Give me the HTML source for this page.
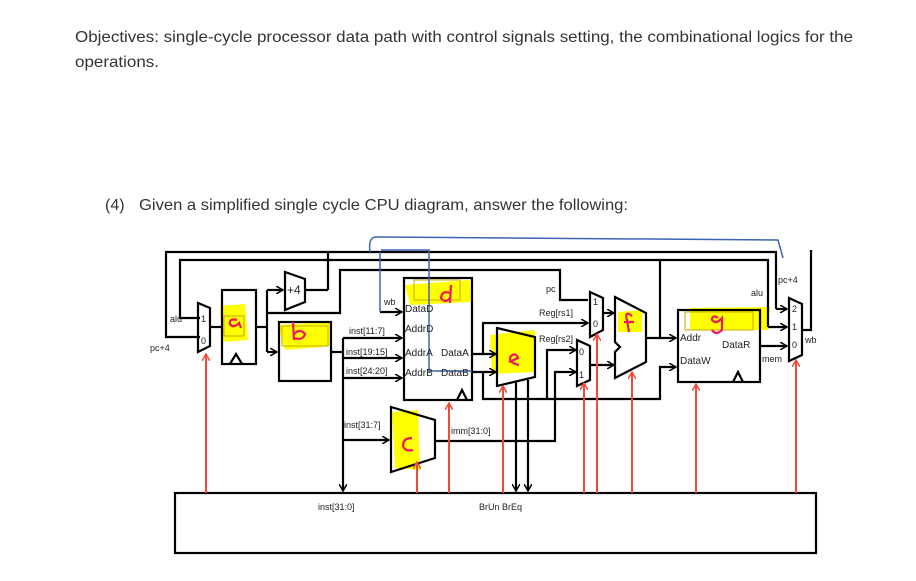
<!DOCTYPE html>
<html><head><meta charset="utf-8"><style>
html,body{margin:0;padding:0;background:#fff;width:916px;height:581px;overflow:hidden}
svg{display:block}
</style></head><body>
<svg width="916" height="581" viewBox="0 0 916 581" xmlns="http://www.w3.org/2000/svg" font-family="Liberation Sans, sans-serif">
<defs>
<marker id="a" markerWidth="8" markerHeight="8" refX="7" refY="4" orient="auto" markerUnits="userSpaceOnUse"><path d="M0,0 L7,4 L0,8" fill="none" stroke="#000" stroke-width="1.5"/></marker>
<marker id="r" markerWidth="8" markerHeight="8" refX="7" refY="4" orient="auto" markerUnits="userSpaceOnUse"><path d="M0,0 L7,4 L0,8" fill="none" stroke="#f04a3a" stroke-width="1.5"/></marker>
</defs>
<g fill="#333" font-size="16">
<text x="75" y="42" textLength="778" lengthAdjust="spacingAndGlyphs">Objectives: single-cycle processor data path with control signals setting,  the combinational logics for the</text>
<text x="75" y="67" textLength="84" lengthAdjust="spacingAndGlyphs">operations.</text>
<text x="105" y="210">(4)</text>
<text x="139" y="210" textLength="489" lengthAdjust="spacingAndGlyphs">Given a simplified single cycle CPU diagram, answer the following:</text>
</g>
<!-- highlights -->
<g fill="#ffff00">
<path d="M220,306 L245,304 L248,340 L222,342 Z"/>
<path d="M278,325 L330,322 L332,346 L285,350 Z"/>
<path d="M405,285 L470,280 L472,302 L410,305 Z"/>
<path d="M490,335 L535,330 L535,372 L492,374 Z"/>
<path d="M392,412 L418,410 L420,470 L395,468 Z"/>
<path d="M618,312 L642,310 L642,332 L618,332 Z"/>
<path d="M690,308 L770,307 L768,330 L690,330 Z"/>
</g>
<g fill="none" stroke="#000" stroke-width="2.2">
<polyline points="200,337 166,337 166,252 776,252 776,309" />
<polyline points="200,318 180,318 180,260 768,260 768,327"/>
<line x1="660" y1="260" x2="660" y2="338"/>
<polyline points="328,290 328,252"/>
<polyline points="267,313 340,313 340,270 560,270 560,300 588,300"/>
<polygon points="198,303 210,308 210,346 198,352"/>
<line x1="210" y1="327" x2="222" y2="327"/>
<rect x="222" y="290" width="34" height="74"/>
<polyline points="230,364 236,354 242,364"/>
<polyline points="256,327 267,327"/>
<polyline points="267,290 267,352"/>
<line x1="267" y1="290" x2="283" y2="290" marker-end="url(#a)"/>
<line x1="267" y1="352" x2="277" y2="352" marker-end="url(#a)"/>
<polygon points="285,272 305,279 305,302 285,310"/>
<line x1="305" y1="290" x2="328" y2="290"/>
<rect x="279" y="322" width="52" height="59"/>
<line x1="331" y1="352" x2="343" y2="352"/>
<line x1="343" y1="338" x2="343" y2="491" marker-end="url(#a)"/>
<line x1="343" y1="338" x2="402" y2="338" marker-end="url(#a)"/>
<line x1="343" y1="358" x2="402" y2="358" marker-end="url(#a)"/>
<line x1="343" y1="378" x2="402" y2="378" marker-end="url(#a)"/>
<line x1="343" y1="440" x2="389" y2="440" marker-end="url(#a)"/>
<rect x="404" y="278" width="68" height="122"/>
<polyline points="457,400 462,390 467,400"/>
<line x1="380" y1="312" x2="402" y2="312" marker-end="url(#a)"/>
<polygon points="391,407 435,420 435,458 391,472"/>
<polyline points="435,441 555,441 555,372 576,372" marker-end="url(#a)"/>
<line x1="472" y1="354" x2="496" y2="354" marker-end="url(#a)"/>
<line x1="472" y1="372" x2="496" y2="372" marker-end="url(#a)"/>
<polyline points="483,354 483,323 588,323" marker-end="url(#a)"/>
<polyline points="483,372 483,399 660,399 660,367 676,367" marker-end="url(#a)"/>
<polyline points="547,399 547,350 576,350" marker-end="url(#a)"/>
<polygon points="497,328 535,337 535,377 497,386"/>
<line x1="516" y1="382" x2="516" y2="491" marker-end="url(#a)"/>
<line x1="528" y1="380" x2="528" y2="491" marker-end="url(#a)"/>
<polygon points="590,292 603,298 603,330 590,337"/>
<polygon points="577,340 590,346 590,380 577,386"/>
<line x1="603" y1="313" x2="614" y2="313" marker-end="url(#a)"/>
<line x1="590" y1="365" x2="614" y2="365" marker-end="url(#a)"/>
<polygon points="615,297 646,313 646,362 615,378 615,352 620,347 615,342 615,333"/>
<line x1="646" y1="338" x2="676" y2="338" marker-end="url(#a)"/>
<rect x="678" y="310" width="82" height="72"/>
<polyline points="733,382 738,372 743,382"/>
<line x1="760" y1="346" x2="787" y2="346" marker-end="url(#a)"/>
<line x1="768" y1="327" x2="787" y2="327" marker-end="url(#a)"/>
<line x1="776" y1="309" x2="787" y2="309" marker-end="url(#a)"/>
<polygon points="789,298 802,304 802,355 789,361"/>
<polyline points="802,330 811,330 811,250"/>
<rect x="175" y="493" width="641" height="60"/>
</g>
<g fill="none" stroke="#c8a800" stroke-width="1"><rect x="224" y="316" width="20" height="20"/><rect x="282" y="326" width="46" height="20"/><rect x="414" y="280" width="46" height="20"/><rect x="685" y="312" width="68" height="18"/></g>
<g fill="none" stroke="#3c64b4" stroke-width="1.5">
<path d="M370,252 Q368,237 376,237 L778,240 L783,258"/>
<polyline points="380,252 380,312"/>
<polyline points="381,250 429,250 429,371 472,371"/>
</g>
<g stroke="#f04a3a" stroke-width="2" fill="none">
<line x1="206" y1="493" x2="206" y2="354" marker-end="url(#r)"/>
<line x1="417" y1="493" x2="417" y2="462" marker-end="url(#r)"/>
<line x1="449" y1="493" x2="449" y2="403" marker-end="url(#r)"/>
<line x1="503" y1="493" x2="503" y2="386" marker-end="url(#r)"/>
<line x1="584" y1="493" x2="584" y2="383" marker-end="url(#r)"/>
<line x1="597" y1="493" x2="597" y2="334" marker-end="url(#r)"/>
<line x1="632" y1="493" x2="632" y2="372" marker-end="url(#r)"/>
<line x1="696" y1="493" x2="696" y2="384" marker-end="url(#r)"/>
<line x1="796" y1="493" x2="796" y2="360" marker-end="url(#r)"/>
</g>
<g fill="none" stroke="#f0185a" stroke-width="2.2">
<path d="M237,320 Q229,318 230,324 Q233,329 239,323 L241,328"/>
<path d="M293,322 L294,340 M294,334 Q300,328 305,334 Q303,341 294,338"/>
<path d="M451,285 L450,303 M450,293 Q442,290 441,298 Q445,304 450,298"/>
<path d="M519,365 Q507,362 511,356 Q516,352 518,358 L509,362"/>
<path d="M412,438 Q403,438 403,446 Q405,452 413,450"/>
<path d="M632,316 Q624,310 627,320 L629,332 M624,322 L634,322"/>
<path d="M718,318 Q712,314 712,320 Q716,325 722,318 L722,330 Q716,336 712,330"/>
</g>
<g font-size="9" fill="#222">
<text x="170" y="322">alu</text>
<text x="150" y="351">pc+4</text>
<text x="201" y="322">1</text><text x="201" y="344">0</text>
<text x="287" y="294" font-size="12">+4</text>
<text x="384" y="305">wb</text>
<text x="405" y="312" font-size="10">DataD</text>
<text x="405" y="332" font-size="10">AddrD</text>
<text x="405" y="356" font-size="10">AddrA</text><text x="441" y="356" font-size="10">DataA</text>
<text x="405" y="376" font-size="10">AddrB</text><text x="441" y="376" font-size="10">DataB</text>
<text x="349" y="334">inst[11:7]</text>
<text x="346" y="355">inst[19:15]</text>
<text x="346" y="374">inst[24:20]</text>
<text x="344" y="428">inst[31:7]</text>
<text x="451" y="434">imm[31:0]</text>
<text x="546" y="292">pc</text>
<text x="539" y="316">Reg[rs1]</text>
<text x="539" y="342">Reg[rs2]</text>
<text x="593" y="305">1</text><text x="593" y="327">0</text>
<text x="579" y="355">0</text><text x="579" y="378">1</text>
<text x="680" y="341" font-size="10">Addr</text>
<text x="722" y="348" font-size="10">DataR</text>
<text x="680" y="364" font-size="10">DataW</text>
<text x="751" y="296">alu</text>
<text x="778" y="283">pc+4</text>
<text x="762" y="362">mem</text>
<text x="792" y="312">2</text><text x="792" y="330">1</text><text x="792" y="348">0</text>
<text x="805" y="343">wb</text>
<text x="318" y="510">inst[31:0]</text>
<text x="479" y="510">BrUn BrEq</text>
</g>
</svg>
</body></html>
